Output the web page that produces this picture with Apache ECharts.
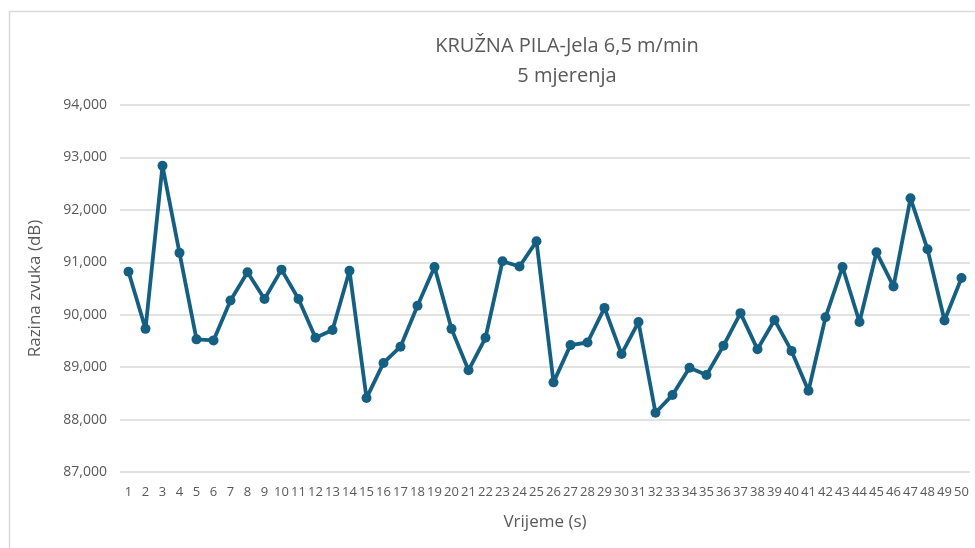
<!DOCTYPE html>
<html>
<head>
<meta charset="utf-8">
<title>KRUŽNA PILA-Jela 6,5 m/min</title>
<script src="https://cdn.jsdelivr.net/npm/echarts@6/dist/echarts.min.js"></script>
<style>
  html, body { margin: 0; padding: 0; background: #fff; }
  #chart { width: 975px; height: 548px; }
</style>
</head>
<body>
<div id="chart"></div>
<script>
// chart text
const titleLines = ["KRUŽNA PILA-Jela 6,5 m/min", "5 mjerenja"];
const xName = "Vrijeme (s)";
const yName = "Razina zvuka (dB)";

// x categories: seconds 1..50
const seconds = [
  "1", "2", "3", "4", "5", "6", "7", "8", "9", "10",
  "11", "12", "13", "14", "15", "16", "17", "18", "19", "20",
  "21", "22", "23", "24", "25", "26", "27", "28", "29", "30",
  "31", "32", "33", "34", "35", "36", "37", "38", "39", "40",
  "41", "42", "43", "44", "45", "46", "47", "48", "49", "50"
];

// sound level (dB)
const levels = [
  90.82, 89.73, 92.84, 91.18, 89.53, 89.51, 90.27, 90.81, 90.30, 90.86,
  90.30, 89.56, 89.71, 90.84, 88.41, 89.08, 89.39, 90.17, 90.91, 89.73,
  88.94, 89.56, 91.02, 90.92, 91.40, 88.71, 89.42, 89.47, 90.13, 89.25,
  89.86, 88.13, 88.47, 88.99, 88.85, 89.41, 90.03, 89.34, 89.90, 89.31,
  88.55, 89.95, 90.91, 89.86, 91.19, 90.54, 92.22, 91.25, 89.89, 90.70
];

// y axis range
const yMin = 87;
const yMax = 94;
const yStep = 1;

const chart = echarts.init(document.getElementById("chart"));

const textColor = "#595959";
const lineColor = "#156082";

chart.setOption({
  animation: false,
  backgroundColor: "#fff",
  textStyle: { fontFamily: "Open Sans, Noto Sans, sans-serif" },
  title: {
    text: titleLines.join("\n"),
    left: 562,
    top: 26,
    textAlign: "center",
    textStyle: {
      color: textColor,
      fontSize: 20,
      fontWeight: "normal",
      lineHeight: 30,
      fontFamily: "Open Sans, sans-serif",
    },
  },
  graphic: [
    // outer chart border (top and left edges visible)
    {
      type: "polyline",
      shape: { points: [[9.5, 548], [9.5, 11.5], [975, 11.5]] },
      style: { stroke: "#d9d9d9", lineWidth: 1.5, fill: null },
      silent: true,
    },
  ],
  grid: {
    left: 120,
    right: 5,
    top: 105,
    bottom: 76,
  },
  xAxis: {
    type: "category",
    data: seconds,
    boundaryGap: true,
    name: xName,
    nameLocation: "middle",
    nameGap: 42,
    nameTextStyle: { color: textColor, fontSize: 17 },
    axisLine: { show: false },
    axisTick: { show: false },
    axisLabel: {
      interval: 0,
      color: textColor,
      fontSize: 13,
      margin: 14,
      fontFamily: "Open Sans, sans-serif",
    },
  },
  yAxis: {
    type: "value",
    min: yMin,
    max: yMax,
    interval: yStep,
    name: yName,
    nameLocation: "middle",
    nameGap: 76,
    nameTextStyle: { color: textColor, fontSize: 17 },
    axisLine: { show: false },
    axisTick: { show: false },
    axisLabel: {
      color: textColor,
      fontSize: 14,
      margin: 13,
      formatter: (v) => v + ",000",
    },
    splitLine: { lineStyle: { color: "#d9d9d9", width: 1.5 } },
  },
  series: [
    {
      name: yName,
      type: "line",
      data: levels,
      symbol: "circle",
      symbolSize: 10,
      lineStyle: { color: lineColor, width: 3.8 },
      itemStyle: { color: lineColor },
    },
  ],
});
</script>
</body>
</html>
